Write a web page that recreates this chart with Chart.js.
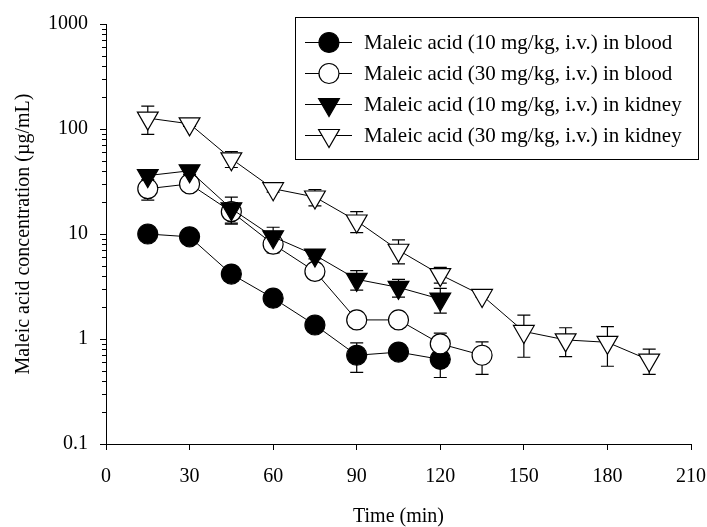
<!DOCTYPE html>
<html>
<head>
<meta charset="utf-8">
<script src="https://cdn.jsdelivr.net/npm/chart.js@4/dist/chart.umd.min.js"></script>
<style>
  html, body { margin: 0; padding: 0; background: #fff; }
  #wrap { width: 707px; height: 527px; position: relative; }
</style>
</head>
<body>
<div id="wrap"><canvas id="chart"></canvas></div>
<script>
// 시간 (min)
const times = [15, 30, 45, 60, 75, 90, 105, 120, 135, 150, 165, 180, 195];

// 농도 값 (µg/mL) 과 표준편차
const blood10 = [10, 9.4, 4.15, 2.45, 1.36, 0.70, 0.75, 0.64];
const blood10Sd = [0.8, 0.6, 0.4, 0.3, 0.1, 0.22, 0.08, 0.21];
const blood30 = [27, 30, 16.3, 8.0, 4.4, 1.52, 1.52, 0.90, 0.70];
const blood30Sd = [6, 3, 3.6, 1.4, 0.3, 0.1, 0.1, 0.24, 0.24];
const kidney10 = [36, 40, 17.4, 9.4, 6.3, 3.7, 3.1, 2.4];
const kidney10Sd = [5, 3, 5, 2.2, 0.5, 0.78, 0.6, 0.64];
const kidney30 = [127, 112, 52, 27, 22.5, 13.3, 7.0, 4.1, 2.6, 1.18, 0.98, 0.93, 0.63];
const kidney30Sd = [38, 6, 9, 2, 4, 3, 1.8, 0.7, 0.1, 0.51, 0.3, 0.38, 0.17];

const yTicks = [0.1, 1, 10, 100, 1000];
const xTicks = [0, 30, 60, 90, 120, 150, 180, 210];

const labels = [
    'Maleic acid (10 mg/kg, i.v.) in blood',
    'Maleic acid (30 mg/kg, i.v.) in blood',
    'Maleic acid (10 mg/kg, i.v.) in kidney',
    'Maleic acid (30 mg/kg, i.v.) in kidney'
];

const FONT = "'Liberation Serif', 'Times New Roman', serif";

function toPoints(vals) {
    return vals.map((v, i) => ({ x: times[i], y: v }));
}

const seriesValues = [blood10, blood30, kidney10, kidney30];
const seriesSd = [blood10Sd, blood30Sd, kidney10Sd, kidney30Sd];
const markers = [
    { pointStyle: 'circle', radius: 10, rotation: 0, fill: '#000' },
    { pointStyle: 'circle', radius: 10, rotation: 0, fill: '#fff' },
    { pointStyle: 'triangle', radius: 12, rotation: 180, fill: '#000' },
    { pointStyle: 'triangle', radius: 12, rotation: 180, fill: '#fff' }
];

const datasets = seriesValues.map((vals, i) => ({
    label: labels[i],
    data: toPoints(vals),
    showLine: true,
    borderColor: '#000',
    borderWidth: 1,
    pointStyle: markers[i].pointStyle,
    pointRadius: markers[i].radius,
    pointRotation: markers[i].rotation,
    pointBackgroundColor: markers[i].fill,
    pointBorderColor: '#000',
    pointBorderWidth: 1.2,
    order: 3 - i
}));

// 오차 막대
const errorBars = {
    id: 'errorBars',
    beforeDatasetsDraw(chart) {
        const ctx = chart.ctx;
        const xs = chart.scales.x, ys = chart.scales.y;
        ctx.save();
        ctx.strokeStyle = '#000';
        ctx.lineWidth = 1.2;
        seriesValues.forEach((vals, i) => {
            vals.forEach((v, j) => {
                const sd = seriesSd[i][j];
                const px = xs.getPixelForValue(times[j]);
                const top = ys.getPixelForValue(v + sd);
                const bot = ys.getPixelForValue(v - sd);
                ctx.beginPath();
                ctx.moveTo(px, top); ctx.lineTo(px, bot);
                ctx.moveTo(px - 6.5, top); ctx.lineTo(px + 6.5, top);
                ctx.moveTo(px - 6.5, bot); ctx.lineTo(px + 6.5, bot);
                ctx.stroke();
            });
        });
        ctx.restore();
    }
};

// 로그 축 보조 눈금 + 범례
const extras = {
    id: 'extras',
    afterDraw(chart) {
        const ctx = chart.ctx;
        const ys = chart.scales.y;
        const left = chart.chartArea.left;
        ctx.save();
        ctx.strokeStyle = '#000';
        ctx.lineWidth = 1;
        for (let d = 0; d < yTicks.length - 1; d++) {
            for (let k = 2; k <= 9; k++) {
                const py = Math.round(ys.getPixelForValue(yTicks[d] * k)) + 0.5;
                ctx.beginPath();
                ctx.moveTo(left, py);
                ctx.lineTo(left - 4, py);
                ctx.stroke();
            }
        }

        // 범례 상자
        ctx.fillStyle = '#fff';
        ctx.fillRect(295.5, 17.5, 403, 142);
        ctx.strokeRect(295.5, 17.5, 403, 142);
        labels.forEach((txt, i) => {
            const y = 42.5 + i * 31;
            ctx.beginPath();
            ctx.moveTo(305, y); ctx.lineTo(352, y);
            ctx.lineWidth = 1;
            ctx.stroke();
            ctx.fillStyle = markers[i].fill;
            ctx.strokeStyle = '#000';
            ctx.lineWidth = 1.2;
            Chart.helpers.drawPoint(ctx, {
                pointStyle: markers[i].pointStyle,
                radius: markers[i].radius,
                rotation: markers[i].rotation,
                borderWidth: 1.2
            }, 329, y);
            ctx.fillStyle = '#000';
            ctx.font = "21px " + FONT;
            ctx.textAlign = 'left';
            ctx.textBaseline = 'middle';
            ctx.fillText(txt, 364, y + 1);
        });
        ctx.restore();
    }
};

new Chart(document.getElementById('chart'), {
    type: 'scatter',
    data: { datasets: datasets },
    plugins: [errorBars, extras],
    options: {
        responsive: true,
        maintainAspectRatio: false,
        animation: false,
        layout: { padding: { top: 24, right: 16, left: 0, bottom: 0 } },
        plugins: {
            legend: { display: false },
            tooltip: { enabled: false }
        },
        scales: {
            x: {
                type: 'linear',
                min: 0,
                max: 210,
                afterBuildTicks: scale => {
                    scale.ticks = xTicks.map(v => ({ value: v }));
                },
                afterFit: scale => {
                    scale.height = 83;
                    scale.paddingLeft = 0;
                    scale.paddingRight = 0;
                },
                border: { color: '#000', width: 1 },
                grid: {
                    display: true, drawOnChartArea: false, drawTicks: true,
                    tickLength: 6, color: '#000', lineWidth: 1
                },
                ticks: {
                    color: '#000', padding: 15, maxRotation: 0,
                    font: { family: FONT, size: 20 }
                },
                title: {
                    display: true, text: 'Time (min)', color: '#000',
                    font: { family: FONT, size: 20, lineHeight: 1 },
                    padding: { top: 0, bottom: 0 }
                }
            },
            y: {
                type: 'logarithmic',
                min: 0.1,
                max: 1000,
                afterBuildTicks: scale => {
                    scale.ticks = yTicks.map(v => ({ value: v }));
                },
                afterFit: scale => {
                    scale.width = 106;
                    scale.paddingTop = 0;
                    scale.paddingBottom = 0;
                },
                border: { color: '#000', width: 1 },
                grid: {
                    display: true, drawOnChartArea: false, drawTicks: true,
                    tickLength: 6, color: '#000', lineWidth: 1
                },
                ticks: {
                    color: '#000', padding: 12,
                    font: { family: FONT, size: 20 },
                    callback: v => String(v)
                },
                title: {
                    display: true, text: 'Maleic acid concentration (µg/mL)', color: '#000',
                    font: { family: FONT, size: 20, lineHeight: 1 },
                    padding: { top: 14, bottom: 0 }
                }
            }
        }
    }
});
</script>
</body>
</html>
